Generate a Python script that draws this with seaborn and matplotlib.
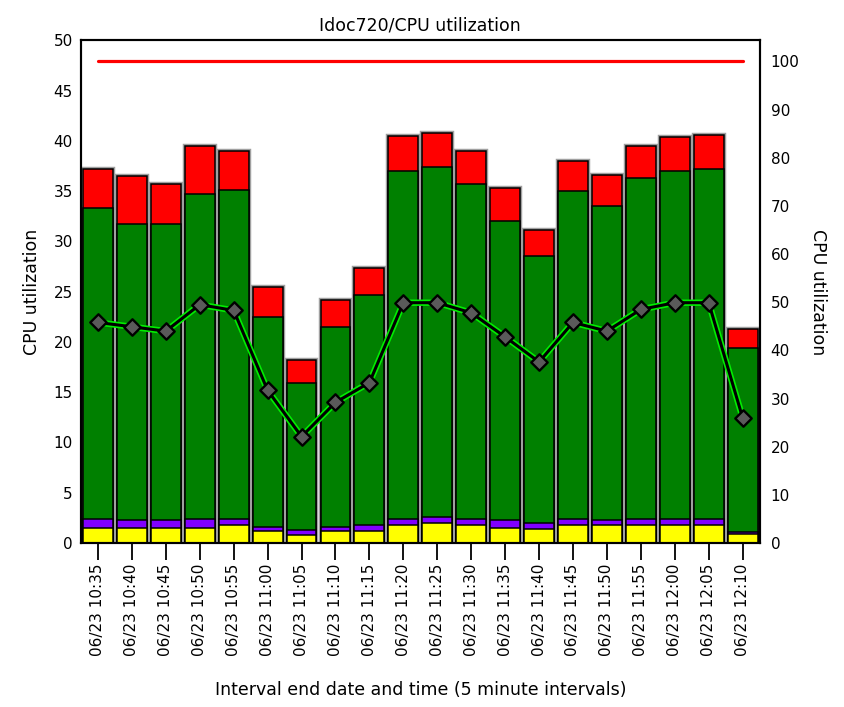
import numpy as np
import pandas as pd
import matplotlib
matplotlib.use('Agg')
import matplotlib.pyplot as plt
import matplotlib.patheffects as pe
import seaborn as sns

# 樣式設定
sns.set_theme(style='white')
plt.rcParams['font.family'] = ['DejaVu Sans']
plt.rcParams['text.color'] = 'black'
plt.rcParams['axes.labelcolor'] = 'black'
plt.rcParams['xtick.color'] = 'black'
plt.rcParams['ytick.color'] = 'black'

# 資料 (從圖上讀出來的估計值)
times = ['10:35', '10:40', '10:45', '10:50', '10:55', '11:00', '11:05', '11:10', '11:15', '11:20',
         '11:25', '11:30', '11:35', '11:40', '11:45', '11:50', '11:55', '12:00', '12:05', '12:10']
labels = ['06/23 ' + t for t in times]

yellow = [1.53, 1.53, 1.53, 1.53, 1.77, 1.16, 0.77, 1.16, 1.16, 1.77,
          1.96, 1.77, 1.53, 1.36, 1.77, 1.77, 1.77, 1.77, 1.77, 0.93]
purple = [0.87, 0.73, 0.73, 0.87, 0.63, 0.44, 0.50, 0.44, 0.67, 0.63,
          0.62, 0.63, 0.73, 0.64, 0.63, 0.49, 0.63, 0.63, 0.63, 0.17]
green = [30.9, 29.5, 29.5, 32.3, 32.7, 20.9, 14.6, 19.9, 22.8, 34.6,
         34.8, 33.3, 29.8, 26.5, 32.6, 31.3, 33.9, 34.6, 34.8, 18.3]
red = [3.9, 4.7, 3.9, 4.8, 3.9, 3.0, 2.3, 2.7, 2.7, 3.5,
       3.4, 3.3, 3.2, 2.6, 3.0, 3.0, 3.2, 3.4, 3.4, 1.9]

# 右軸的折線 (百分比)
cpu_pct = [45.8, 44.9, 44.0, 49.5, 48.3, 31.7, 22.1, 29.2, 33.3, 49.9,
           49.9, 47.8, 42.8, 37.6, 45.8, 44.0, 48.5, 49.9, 49.9, 26.0]
threshold = [100] * len(labels)

df = pd.DataFrame({'label': labels, 'yellow': yellow, 'purple': purple, 'green': green, 'red': red})
# 堆疊用的累計高度
df['top_yellow'] = df['yellow']
df['top_purple'] = df['top_yellow'] + df['purple']
df['top_green'] = df['top_purple'] + df['green']
df['top_red'] = df['top_green'] + df['red']

fig, ax = plt.subplots(figsize=(8.44, 7.07), dpi=100)
fig.subplots_adjust(left=0.096, right=0.900, bottom=0.232, top=0.943)

# 由高畫到低，做出堆疊效果
layers = [('top_red', '#ff0000'), ('top_green', '#008000'),
          ('top_purple', '#8000ff'), ('top_yellow', '#ffff00')]
for i, (col, c) in enumerate(layers):
    sns.barplot(data=df, x='label', y=col, color=c, saturation=1, width=0.88,
                edgecolor='black', linewidth=1.1, errorbar=None, ax=ax)
    if i == 0:
        # 外框加一圈灰色
        for p in ax.patches:
            p.set_path_effects([pe.Stroke(linewidth=3.2, foreground='#a0a0a0'), pe.Normal()])

ax.set_xlim(-0.5, len(labels) - 0.5)
ax.set_ylim(0, 50)
ax.set_yticks(range(0, 51, 5))
ax.tick_params(axis='y', length=0, pad=6, labelsize=11)
ax.tick_params(axis='x', bottom=True, length=12, width=1.3, direction='out', pad=3,
               labelsize=11, labelrotation=90)
ax.set_xlabel('Interval end date and time (5 minute intervals)', fontsize=12.5, labelpad=18)
ax.set_ylabel('CPU utilization', fontsize=12.5, labelpad=9)
ax.set_title('Idoc720/CPU utilization', fontsize=12.5, pad=7)
for s in ax.spines.values():
    s.set_color('black')
    s.set_linewidth(1.5)

# 右軸：門檻線 + CPU 折線
ax2 = ax.twinx()
pos = np.arange(len(labels))
sns.lineplot(x=pos, y=threshold, color='#ff0000', linewidth=2.3, ax=ax2)
sns.lineplot(x=pos, y=cpu_pct, color='black', linewidth=2.2, ax=ax2,
             path_effects=[pe.Stroke(linewidth=4.6, foreground='#00ee00'), pe.Normal()])
sns.scatterplot(x=pos, y=cpu_pct, marker='D', s=70, color='#5a5a5a',
                edgecolor='black', linewidth=1.7, ax=ax2, zorder=5)
ax2.set_ylim(0, 104.4)
ax2.set_yticks(range(0, 101, 10))
ax2.tick_params(axis='y', length=0, pad=8, labelsize=11)
ax2.set_ylabel('CPU utilization', fontsize=12.5, rotation=270, labelpad=20)
ax2.grid(False)
for s in ax2.spines.values():
    s.set_color('black')
    s.set_linewidth(1.5)

plt.savefig('out.png', dpi=100)
